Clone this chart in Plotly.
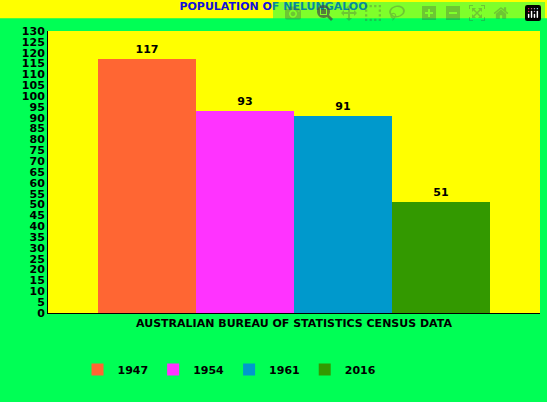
import plotly.graph_objects as go

years = ["1947", "1954", "1961", "2016"]
population = [117, 93, 91, 51]
colors = ["#FF6633", "#FF33FF", "#0099CC", "#339900"]

FONT = "DejaVu Sans"

fig = go.Figure()
for i, (yr, val, c) in enumerate(zip(years, population, colors)):
    fig.add_trace(go.Bar(x=[i], y=[val], name=yr, width=1, marker=dict(color=c, line=dict(width=0)),
                         text=[str(val)], textposition="outside", cliponaxis=False,
                         textfont=dict(color="black", size=11, family=FONT, weight="bold")))

# yellow title band
fig.add_shape(type="rect", xref="paper", yref="paper", x0=-1, x1=2, y0=1.045, y1=1.2,
              fillcolor="#FFFF00", line=dict(width=0), layer="below")

fig.update_layout(
    width=547, height=402,
    paper_bgcolor="#00FF55", plot_bgcolor="#FFFF00",
    margin=dict(l=48, r=7, t=31, b=89),
    font=dict(family=FONT, size=11, color="black", weight="bold"),
    title=dict(text="POPULATION OF NELUNGALOO", x=0.5, y=0.994, yanchor="top",
               font=dict(color="#1010DD", size=11, family=FONT, weight="bold")),
    bargap=0, showlegend=True,
    legend=dict(orientation="h", x=0.06, y=-0.2, xanchor="left", yanchor="middle",
                font=dict(size=11, weight="bold"), itemwidth=30, traceorder="normal",
                bgcolor="rgba(0,0,0,0)"),
    xaxis=dict(range=[-1.01, 4.01], showticklabels=False, showgrid=False, zeroline=False,
               showline=True, linecolor="black", linewidth=1,
               title=dict(text="AUSTRALIAN BUREAU OF STATISTICS CENSUS DATA", standoff=6,
                          font=dict(size=11, weight="bold"))),
    yaxis=dict(range=[0, 130], dtick=5, showgrid=False, zeroline=False,
               showline=True, linecolor="black", linewidth=1, ticks="", ticklen=0,
               tickfont=dict(size=11, weight="bold")),
)

fig.write_html("out.html", post_script="document.body.style.margin='0';")
